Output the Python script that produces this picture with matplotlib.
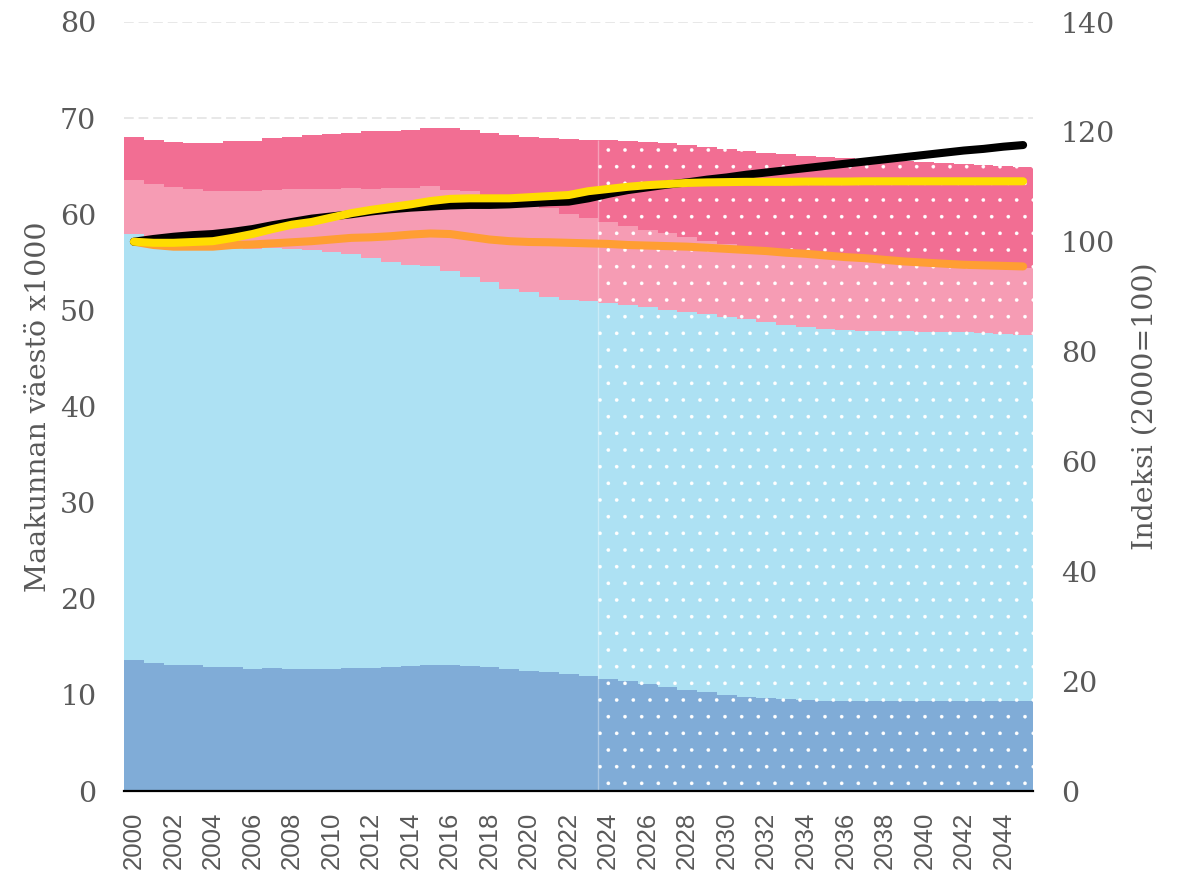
import numpy as np
import matplotlib
matplotlib.use("Agg")
import matplotlib.pyplot as plt

# ---------------- data ----------------
years = list(range(2000, 2046))
first_projection_year = 2024

# population by age group (thousands), bottom to top of the stack
group_children = [13.6, 13.3, 13.15, 13.1, 12.95, 12.85, 12.7, 12.75, 12.7, 12.7,
                  12.7, 12.75, 12.8, 12.9, 13.0, 13.1, 13.1, 13.0, 12.85, 12.7,
                  12.5, 12.35, 12.2, 12.0, 11.7, 11.45, 11.1, 10.85, 10.5, 10.25,
                  10.0, 9.8, 9.65, 9.55, 9.45, 9.4, 9.4, 9.4, 9.4, 9.4,
                  9.4, 9.4, 9.4, 9.4, 9.4, 9.4]
group_working = [44.3, 43.6, 43.65, 43.6, 43.65, 43.75, 43.7, 43.75, 43.7, 43.6,
                 43.4, 43.15, 42.6, 42.1, 41.7, 41.5, 41.0, 40.5, 40.05, 39.5,
                 39.4, 39.0, 38.9, 39.0, 39.1, 39.15, 39.2, 39.15, 39.35, 39.35,
                 39.35, 39.3, 39.1, 38.95, 38.8, 38.7, 38.6, 38.5, 38.5, 38.45,
                 38.4, 38.4, 38.3, 38.2, 38.1, 38.05]
group_young_old = [5.7, 6.2, 6.0, 5.9, 5.8, 5.85, 6.0, 6.0, 6.2, 6.3,
                   6.55, 6.85, 7.25, 7.7, 8.05, 8.3, 8.4, 8.9, 9.0, 9.3,
                   9.1, 9.25, 8.9, 8.6, 8.4, 8.2, 8.1, 8.0, 7.75, 7.6,
                   7.55, 7.5, 7.55, 7.6, 7.65, 7.6, 7.5, 7.4, 7.3, 7.15,
                   7.1, 7.0, 7.0, 7.0, 7.0, 7.0]
group_oldest = [4.45, 4.6, 4.7, 4.85, 5.0, 5.15, 5.2, 5.4, 5.4, 5.6,
                5.75, 5.75, 6.05, 6.0, 6.05, 6.1, 6.5, 6.4, 6.6, 6.7,
                7.0, 7.3, 7.85, 8.15, 8.55, 8.8, 9.1, 9.4, 9.6, 9.8,
                9.9, 10.0, 10.1, 10.2, 10.2, 10.3, 10.3, 10.4, 10.4, 10.5,
                10.5, 10.5, 10.5, 10.5, 10.5, 10.5]

# index series (2000 = 100)
index_black = [100.0, 100.5, 100.9, 101.2, 101.4, 101.8, 102.3, 103.0, 103.6, 104.2,
               104.6, 105.0, 105.5, 105.9, 106.2, 106.4, 106.6, 106.7, 106.7, 106.8,
               107.0, 107.2, 107.3, 107.9, 108.7, 109.4, 109.9, 110.4, 110.8, 111.3,
               111.7, 112.2, 112.6, 113.0, 113.4, 113.8, 114.2, 114.6, 115.0, 115.4,
               115.8, 116.2, 116.6, 116.9, 117.3, 117.6]
index_yellow = [100.0, 99.8, 99.8, 99.95, 100.1, 100.7, 101.4, 102.3, 103.1, 103.6,
                104.4, 105.2, 105.8, 106.3, 106.8, 107.4, 107.8, 107.9, 107.9, 107.9,
                108.1, 108.3, 108.5, 109.2, 109.6, 110.0, 110.3, 110.5, 110.7, 110.8,
                110.85, 110.9, 110.9, 110.9, 110.95, 110.95, 110.95, 111.0, 111.0, 111.0,
                111.0, 111.0, 111.0, 111.0, 111.0, 111.0]
index_orange = [100.0, 99.4, 99.1, 99.1, 99.1, 99.4, 99.5, 99.7, 99.9, 100.1,
                100.4, 100.7, 100.8, 101.0, 101.3, 101.5, 101.4, 100.9, 100.4, 100.1,
                99.95, 99.9, 99.8, 99.7, 99.6, 99.4, 99.3, 99.2, 99.1, 98.9,
                98.7, 98.5, 98.3, 98.0, 97.8, 97.5, 97.2, 97.0, 96.7, 96.4,
                96.2, 96.0, 95.8, 95.7, 95.6, 95.5]

left_ticks = [0, 10, 20, 30, 40, 50, 60, 70, 80]
right_ticks = [0, 20, 40, 60, 80, 100, 120, 140]
x_tick_years = years[::2]
left_label = "Maakunnan väestö x1000"
right_label = "Indeksi (2000=100)"

# ---------------- style ----------------
group_colors = ["#80acd7", "#ade1f3", "#f69cb4", "#f26e93"]
line_colors = {"orange": "#ff9e33", "black": "#000000", "yellow": "#ffdd00"}
text_color = "#595959"

plt.rcParams["hatch.color"] = "white"
plt.rcParams["hatch.linewidth"] = 0.2

fig = plt.figure(figsize=(11.83, 8.71), dpi=100)
ax = fig.add_axes([124 / 1183, 80 / 871, 909 / 1183, 769 / 871])

yrs = np.array(years)
groups = [np.array(g) for g in (group_children, group_working, group_young_old, group_oldest)]
hist = yrs < first_projection_year
proj = ~hist

lower = np.zeros(len(yrs))
for vals, col in zip(groups, group_colors):
    upper = lower + vals
    for mask, hatch in ((hist, None), (proj, ".")):
        yy = yrs[mask]
        edges = np.append(yy - 0.5, yy[-1] + 0.5)
        ax.stairs(upper[mask], edges, baseline=lower[mask], fill=True,
                  facecolor=col, edgecolor="white", linewidth=0,
                  hatch=hatch, zorder=2)
    lower = upper

total = lower
pidx = int(np.argmax(proj))
ax.vlines(first_projection_year - 0.5, 0, total[pidx], color="white",
          alpha=0.35, lw=1, zorder=3)

ax.set_xlim(yrs[0] - 0.5, yrs[-1] + 0.5)
ax.set_ylim(left_ticks[0], left_ticks[-1])
ax.set_yticks(left_ticks)
ax.set_xticks(x_tick_years)
ax.set_xticklabels([str(y) for y in x_tick_years], rotation=90,
                   fontfamily="Liberation Sans", fontsize=18.5, color=text_color)
ax.set_yticklabels([str(v) for v in left_ticks], fontfamily="DejaVu Serif",
                   fontsize=20.5, color=text_color)
ax.tick_params(axis="both", length=0)
ax.tick_params(axis="x", pad=15)
ax.tick_params(axis="y", pad=20)
ax.yaxis.grid(True, color="#e8e8e8", linestyle=(0, (5, 2.5)), lw=1.4, zorder=0)
ax.set_axisbelow(True)
for s in ("top", "left", "right"):
    ax.spines[s].set_visible(False)
ax.spines["bottom"].set_color("black")
ax.spines["bottom"].set_linewidth(1.6)
ax.spines["bottom"].set_zorder(5)
ax.set_ylabel(left_label, fontfamily="DejaVu Serif", fontsize=20.5,
              color=text_color, labelpad=6)

ax2 = ax.twinx()
ax2.set_ylim(right_ticks[0], right_ticks[-1])
ax2.set_yticks(right_ticks)
ax2.set_yticklabels([str(v) for v in right_ticks], fontfamily="DejaVu Serif",
                    fontsize=20.5, color=text_color)
ax2.tick_params(axis="y", length=0, pad=20)
for s in ("top", "left", "right", "bottom"):
    ax2.spines[s].set_visible(False)
ax2.set_ylabel(right_label, fontfamily="DejaVu Serif", fontsize=20.5,
               color=text_color, labelpad=12)

lw = 5.8
ax2.plot(yrs, index_orange, color=line_colors["orange"], lw=lw,
         solid_capstyle="round", solid_joinstyle="round", zorder=3)
ax2.plot(yrs, index_black, color=line_colors["black"], lw=lw,
         solid_capstyle="round", solid_joinstyle="round", zorder=4)
ax2.plot(yrs, index_yellow, color=line_colors["yellow"], lw=lw,
         solid_capstyle="round", solid_joinstyle="round", zorder=5)

fig.savefig("out.png", dpi=100)
